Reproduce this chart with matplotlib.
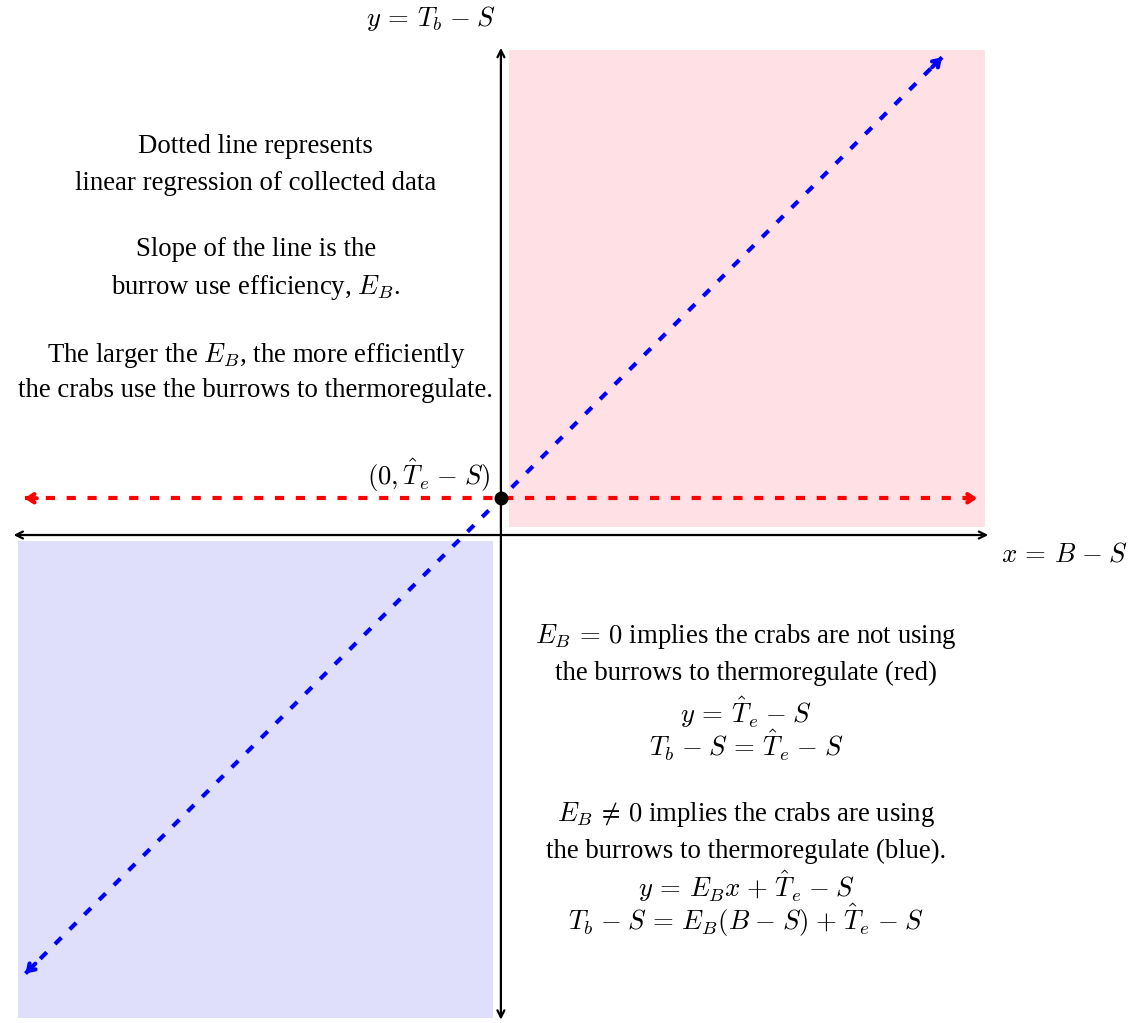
import matplotlib.pyplot as plt
from matplotlib.patches import Rectangle

plt.rcParams['font.family'] = ['Liberation Serif', 'DejaVu Serif']
plt.rcParams['mathtext.fontset'] = 'cm'

# diagram values (tikz-style units)
intercept = 0.75          # T_e - S
slope = 1.0               # E_B
blue_x = [-9.7, 9.0]      # regression line span
red_x = [-9.72, 9.72]     # E_B = 0 line span
red_box = [0.16, 0.16, 9.88, 9.9]       # x0, y0, x1, y1
blue_box = [-9.86, -9.86, -0.16, -0.12]
axis_x = [-10.0, 10.0]
axis_y = [-9.95, 10.0]

# extra spacing so mathtext looks closer to LaTeX
M = r'\hspace{0.08}-\hspace{0.08}'
P = r'\hspace{0.08}+\hspace{0.08}'
EQ = r'\,=\,'
NE = r'\,\neq\,'

left_lines = ["Dotted line represents", "linear regression of collected data",
              "Slope of the line is the", r"burrow use efficiency, $E_B$.",
              r"The larger the $E_B$, the more efficiently",
              "the crabs use the burrows to thermoregulate."]
left_y = [7.92, 7.18, 5.82, 5.06, 3.67, 2.94]

right_lines = [rf"$E_B{EQ}0$ implies the crabs are not using",
               "the burrows to thermoregulate (red)",
               rf"$y{EQ}\hat{{T}}_e{M}S$",
               rf"$T_b{M}S{EQ}\hat{{T}}_e{M}S$",
               rf"$E_B{NE}0$ implies the crabs are using",
               "the burrows to thermoregulate (blue).",
               rf"$y{EQ}E_B x{P}\hat{{T}}_e{M}S$",
               rf"$T_b{M}S{EQ}E_B(B{M}S){P}\hat{{T}}_e{M}S$"]
right_y = [-2.08, -2.82, -3.61, -4.29, -5.71, -6.45, -7.16, -7.86]

fig = plt.figure(figsize=(11.42, 10.23), dpi=100)
ax = fig.add_axes([0, 0, 1, 1])
ax.set_xlim(-10.22, 13.08)
ax.set_ylim(-9.96, 10.92)
ax.axis('off')

# shaded regions
ax.add_patch(Rectangle((red_box[0], red_box[1]), red_box[2] - red_box[0], red_box[3] - red_box[1],
                       color='#ffe0e4', lw=0, zorder=0))
ax.add_patch(Rectangle((blue_box[0], blue_box[1]), blue_box[2] - blue_box[0], blue_box[3] - blue_box[1],
                       color='#dfdffc', lw=0, zorder=0))

# axes with arrows
ax.annotate('', xy=(axis_x[1], 0), xytext=(axis_x[0], 0),
            arrowprops=dict(arrowstyle='<->,head_length=0.5,head_width=0.25', color='black', lw=1.6))
ax.annotate('', xy=(0, axis_y[1]), xytext=(0, axis_y[0]),
            arrowprops=dict(arrowstyle='<->,head_length=0.5,head_width=0.25', color='black', lw=1.6))

# dashed lines
ax.plot(red_x, [intercept, intercept], color='#ff0000', lw=3, dashes=(2.2, 2.8), zorder=3)
by = [slope * x + intercept for x in blue_x]
ax.plot(blue_x, by, color='#0000ff', lw=3, dashes=(2.2, 2.8), zorder=3)

# arrow heads
def head(x0, y0, x1, y1, c):
    ax.annotate('', xy=(x1, y1), xytext=(x0, y0),
                arrowprops=dict(arrowstyle='->,head_length=0.45,head_width=0.3', color=c, lw=3,
                                shrinkA=0, shrinkB=0), zorder=4)

head(red_x[0] + 0.25, intercept, red_x[0], intercept, '#ff0000')
head(red_x[1] - 0.25, intercept, red_x[1], intercept, '#ff0000')
head(blue_x[0] + 0.2, by[0] + 0.2 * slope, blue_x[0], by[0], '#0000ff')
head(blue_x[1] - 0.2, by[1] - 0.2 * slope, blue_x[1], by[1], '#0000ff')

ax.plot([0], [intercept], 'o', color='black', ms=9, zorder=5)

fs = 19.3
for t, y in zip(left_lines, left_y):
    ax.text(-5.0, y, t, ha='center', va='center', fontsize=fs)
for t, y in zip(right_lines, right_y):
    ax.text(5.0, y, t, ha='center', va='center', fontsize=fs)

ax.text(-1.43, 10.55, rf"$y{EQ}T_b{M}S$", ha='center', va='center', fontsize=fs)
ax.text(11.5, -0.41, rf"$x{EQ}B{M}S$", ha='center', va='center', fontsize=fs)
ax.text(-0.22, 1.22, rf"$(0, \hat{{T}}_e{M}S)$", ha='right', va='center', fontsize=fs)

fig.savefig('out.png', dpi=100)
